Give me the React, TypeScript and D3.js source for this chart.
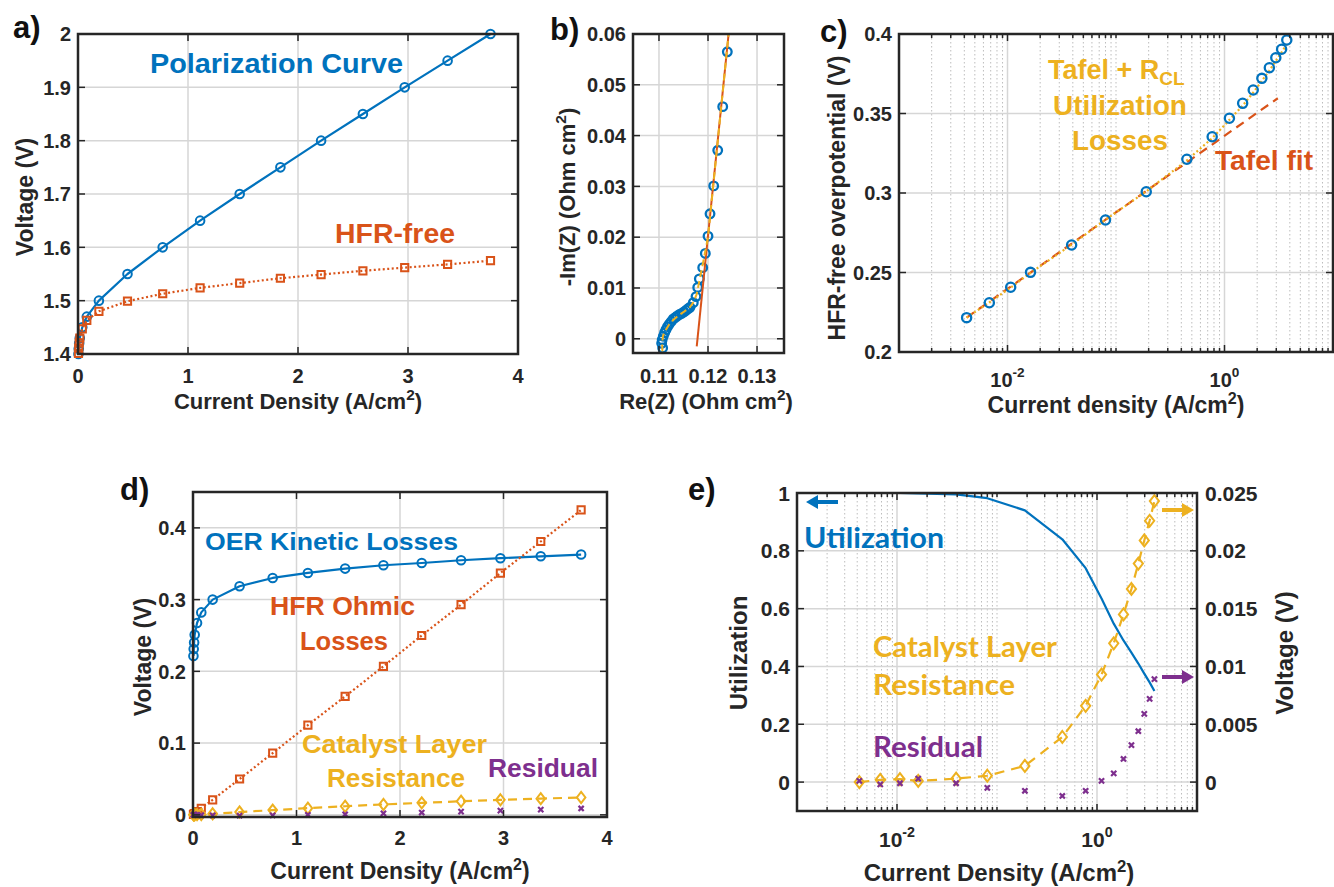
import React, { useRef, useEffect } from 'react'
import * as d3 from 'd3'

const BLUE = '#0072BD'
const RED = '#D95319'
const YELLOW = '#EDB120'
const PURPLE = '#7E2F8E'
const INK = '#262626'
const GRID = '#d6d6d6'
const ARIAL = "'Liberation Sans', Arial, sans-serif"
const CALIBRI = "Lato, 'Open Sans', sans-serif"

// current densities of the polarization points (A/cm2), shared by a, c, d, e
const currentDensity = [0.0042, 0.0068, 0.0107, 0.0163, 0.039, 0.08, 0.19, 0.45, 0.77, 1.11, 1.47, 1.84, 2.21, 2.59, 2.97, 3.36, 3.75]

// a) cell voltage and HFR-free voltage (V)
const cellVoltage = [1.4, 1.41, 1.42, 1.43, 1.45, 1.47, 1.5, 1.55, 1.6, 1.65, 1.7, 1.75, 1.8, 1.85, 1.9, 1.95, 2.0]
const hfrFreeVoltage = [1.401, 1.411, 1.421, 1.43, 1.447, 1.463, 1.48, 1.499, 1.513, 1.524, 1.533, 1.542, 1.549, 1.556, 1.562, 1.568, 1.575]

// b) impedance spectrum (Ohm cm2)
const reZ = [0.11075, 0.11054, 0.11065, 0.11088, 0.11115, 0.11143, 0.11175, 0.1121, 0.1125, 0.11292, 0.11335, 0.11374, 0.1142, 0.11463, 0.1151, 0.11551, 0.1159, 0.11633, 0.117, 0.11755, 0.1179, 0.11823, 0.11892, 0.11945, 0.12, 0.12041, 0.12116, 0.12198, 0.123, 0.12394]
const negImZ = [-0.0018, -0.0009, -0.0002, 0.0005, 0.0012, 0.0018, 0.0024, 0.0029, 0.0034, 0.0039, 0.0042, 0.0045, 0.0048, 0.005, 0.0053, 0.0056, 0.0059, 0.0062, 0.0071, 0.0083, 0.0101, 0.0118, 0.014, 0.0168, 0.0202, 0.0246, 0.0301, 0.0371, 0.0457, 0.0565]
const fitReZ = [0.1107, 0.11065, 0.1108, 0.1113, 0.112, 0.1129, 0.114, 0.1152, 0.1163, 0.1171, 0.1177, 0.1182, 0.119, 0.12, 0.1221, 0.1242]
const fitImZ = [-0.0025, -0.001, 0.0005, 0.0016, 0.0027, 0.0037, 0.0046, 0.0054, 0.0062, 0.0073, 0.0088, 0.0112, 0.015, 0.02, 0.04, 0.06]
const lineReZ = [0.1177, 0.1242]
const lineImZ = [-0.0015, 0.06]

// c) HFR-free overpotential (V)
const overpotential = [0.2216, 0.231, 0.2407, 0.2501, 0.2673, 0.283, 0.3008, 0.3212, 0.3354, 0.347, 0.3564, 0.3648, 0.3721, 0.3788, 0.3851, 0.3904, 0.3962]
const modelOverpotential = [0.2216, 0.2312, 0.2405, 0.2498, 0.2675, 0.2832, 0.301, 0.3205, 0.3345, 0.346, 0.355, 0.3632, 0.3705, 0.377, 0.383, 0.3885, 0.3935]
const tafelCurrent = [0.0042, 3.1]
const tafelOverpotential = [0.2216, 0.3596]

// d) voltage loss breakdown (V)
const kineticLoss = [0.2214, 0.231, 0.2403, 0.2511, 0.2674, 0.2822, 0.3, 0.3186, 0.3302, 0.3372, 0.3432, 0.3479, 0.351, 0.3549, 0.3577, 0.3604, 0.3628]
const ohmicLoss = [0.0005, 0.0008, 0.0012, 0.0018, 0.0044, 0.0092, 0.021, 0.05, 0.086, 0.125, 0.165, 0.207, 0.25, 0.293, 0.337, 0.381, 0.425]
const catalystLayerLoss = [0, 0.0002, 0.00026, 0.0001, 0.0003, 0.00055, 0.0014, 0.0039, 0.0066, 0.0093, 0.012, 0.0145, 0.0167, 0.0189, 0.0209, 0.0226, 0.0243]
const residualLoss = [0.0001, -0.0002, -0.0001, 0.0003, -0.0001, -0.0005, -0.00075, -0.0012, -0.00075, 0.0001, 0.00075, 0.002, 0.0032, 0.0044, 0.0059, 0.0072, 0.0089]

// e) catalyst utilization (-)
const utilization = [1.0, 1.0, 1.0, 0.999, 0.995, 0.982, 0.94, 0.84, 0.74, 0.635, 0.548, 0.49, 0.448, 0.41, 0.375, 0.345, 0.315]

// tick values
const ticksLinearJ = [0, 1, 2, 3, 4]
const ticksLogJ = [0.01, 1]
const ticksA = [1.4, 1.5, 1.6, 1.7, 1.8, 1.9, 2]
const ticksReZ = [0.11, 0.12, 0.13]
const ticksImZ = [0, 0.01, 0.02, 0.03, 0.04, 0.05, 0.06]
const ticksC = [0.2, 0.25, 0.3, 0.35, 0.4]
const ticksD = [0, 0.1, 0.2, 0.3, 0.4]
const ticksUtil = [0, 0.2, 0.4, 0.6, 0.8, 1]
const ticksVoltE = [0, 0.005, 0.01, 0.015, 0.02, 0.025]

type Box = { x0: number; x1: number; y0: number; y1: number }

const fmt = d3.format('~g')

const pairs = (xs: number[], ys: number[]) => xs.map((v, i) => [v, ys[i]])

function minorLogValues(x: any, majors: number[]) {
    const [lo, hi] = x.domain()
    const out: number[] = []
    for (let k = Math.floor(Math.log10(lo)); k < Math.log10(hi); k++) {
        for (let m = 1; m < 10; m++) {
            const v = m * Math.pow(10, k)
            if (v > lo * 1.001 && v < hi * 0.999 && !majors.some(t => Math.abs(v / t - 1) < 1e-6)) out.push(v)
        }
    }
    return out
}

function drawGrid(g: any, b: Box, x: any, y: any, xTicks: number[], yTicks: number[], logX = false) {
    if (logX) {
        g.append('g')
            .selectAll('line')
            .data(minorLogValues(x, xTicks))
            .join('line')
            .attr('x1', (d: number) => x(d))
            .attr('x2', (d: number) => x(d))
            .attr('y1', b.y0)
            .attr('y2', b.y1)
            .attr('stroke', '#bdbdbd')
            .attr('stroke-width', 1)
            .attr('stroke-dasharray', '1.5,2.5')
    }
    g.append('g')
        .selectAll('line')
        .data(xTicks.filter(t => x(t) > b.x0 + 2 && x(t) < b.x1 - 2))
        .join('line')
        .attr('x1', (d: number) => x(d))
        .attr('x2', (d: number) => x(d))
        .attr('y1', b.y0)
        .attr('y2', b.y1)
        .attr('stroke', GRID)
        .attr('stroke-width', 1.5)
    g.append('g')
        .selectAll('line')
        .data(yTicks.filter(t => y(t) > b.y0 + 2 && y(t) < b.y1 - 2))
        .join('line')
        .attr('x1', b.x0)
        .attr('x2', b.x1)
        .attr('y1', (d: number) => y(d))
        .attr('y2', (d: number) => y(d))
        .attr('stroke', GRID)
        .attr('stroke-width', 1.5)
}

type AxisOpts = {
    xTicks: number[]
    yTicks: number[]
    logX?: boolean
    y2?: any
    y2Ticks?: number[]
    xBase: number
    size?: number
}

function drawAxes(g: any, b: Box, x: any, y: any, o: AxisOpts) {
    const size = o.size ?? 20
    const tl = 7
    const ticks = g.append('g').attr('stroke', INK).attr('stroke-width', 1.5)
    o.xTicks.forEach(t => {
        ticks.append('line').attr('x1', x(t)).attr('x2', x(t)).attr('y1', b.y1).attr('y2', b.y1 - tl)
        ticks.append('line').attr('x1', x(t)).attr('x2', x(t)).attr('y1', b.y0).attr('y2', b.y0 + tl)
    })
    if (o.logX) {
        minorLogValues(x, o.xTicks).forEach(t => {
            ticks.append('line').attr('x1', x(t)).attr('x2', x(t)).attr('y1', b.y1).attr('y2', b.y1 - 4)
            ticks.append('line').attr('x1', x(t)).attr('x2', x(t)).attr('y1', b.y0).attr('y2', b.y0 + 4)
        })
    }
    o.yTicks.forEach(t => {
        ticks.append('line').attr('x1', b.x0).attr('x2', b.x0 + tl).attr('y1', y(t)).attr('y2', y(t))
        if (!o.y2) ticks.append('line').attr('x1', b.x1).attr('x2', b.x1 - tl).attr('y1', y(t)).attr('y2', y(t))
    })
    if (o.y2) {
        o.y2Ticks!.forEach(t => {
            ticks.append('line').attr('x1', b.x1).attr('x2', b.x1 - tl).attr('y1', o.y2(t)).attr('y2', o.y2(t))
        })
    }

    // Axes box
    g.append('rect')
        .attr('x', b.x0)
        .attr('y', b.y0)
        .attr('width', b.x1 - b.x0)
        .attr('height', b.y1 - b.y0)
        .attr('fill', 'none')
        .attr('stroke', INK)
        .attr('stroke-width', 2.5)

    const labels = g.append('g')
        .attr('font-family', ARIAL)
        .attr('font-weight', 'bold')
        .attr('font-size', size)
        .attr('fill', INK)

    o.xTicks.forEach(t => {
        const txt = labels.append('text').attr('x', x(t)).attr('y', o.xBase).attr('text-anchor', 'middle')
        if (o.logX) {
            txt.append('tspan').text('10')
            txt.append('tspan').attr('dy', -10).attr('font-size', size * 0.68).text(String(Math.round(Math.log10(t))))
        } else {
            txt.text(fmt(t))
        }
    })
    o.yTicks.forEach(t => {
        labels.append('text')
            .attr('x', b.x0 - 7)
            .attr('y', y(t))
            .attr('dy', '0.36em')
            .attr('text-anchor', 'end')
            .text(fmt(t))
    })
    if (o.y2) {
        o.y2Ticks!.forEach(t => {
            labels.append('text')
                .attr('x', b.x1 + 8)
                .attr('y', o.y2(t))
                .attr('dy', '0.36em')
                .attr('text-anchor', 'start')
                .text(fmt(t))
        })
    }
}

function drawLine(g: any, xs: number[], ys: number[], x: any, y: any, color: string, width: number, dash?: string) {
    const line = d3.line<number[]>().x(d => x(d[0])).y(d => y(d[1]))
    g.append('path')
        .attr('d', line(pairs(xs, ys)))
        .attr('fill', 'none')
        .attr('stroke', color)
        .attr('stroke-width', width)
        .attr('stroke-dasharray', dash ?? null)
        .attr('stroke-linejoin', 'round')
}

const shapes: Record<string, (s: number) => string> = {
    circle: s => `M${s},0A${s},${s} 0 1,1 ${-s},0A${s},${s} 0 1,1 ${s},0Z`,
    square: s => `M${-s},${-s}H${s}V${s}H${-s}Z`,
    diamond: s => `M0,${-s * 1.3}L${s},0L0,${s * 1.3}L${-s},0Z`,
    cross: s => `M${-s},${-s}L${s},${s}M${-s},${s}L${s},${-s}`
}

function drawMarkers(g: any, xs: number[], ys: number[], x: any, y: any, shape: string, size: number, color: string, width: number) {
    g.append('g')
        .selectAll('path')
        .data(pairs(xs, ys))
        .join('path')
        .attr('transform', (d: number[]) => `translate(${x(d[0])},${y(d[1])})`)
        .attr('d', shapes[shape](size))
        .attr('fill', 'none')
        .attr('stroke', color)
        .attr('stroke-width', width)
}

function note(g: any, x: number, y: number, txt: string, color: string, size: number, len?: number, family = ARIAL, anchor = 'start') {
    const t = g.append('text')
        .attr('x', x)
        .attr('y', y)
        .attr('fill', color)
        .attr('font-family', family)
        .attr('font-weight', 'bold')
        .attr('font-size', size)
        .attr('text-anchor', anchor)
        .text(txt)
    if (len) t.attr('textLength', len).attr('lengthAdjust', 'spacingAndGlyphs')
    return t
}

function axisTitle(g: any, x: number, y: number, txt: string, rotate: boolean, sup?: string, size = 23) {
    const t = g.append('text')
        .attr('font-family', ARIAL)
        .attr('font-weight', 'bold')
        .attr('font-size', size)
        .attr('fill', INK)
        .attr('text-anchor', 'middle')
    if (rotate) t.attr('transform', `translate(${x},${y}) rotate(-90)`).attr('dy', '0.35em')
    else t.attr('x', x).attr('y', y)
    if (sup) {
        const [pre, post] = txt.split('^')
        t.append('tspan').text(pre)
        t.append('tspan').attr('dy', -9).attr('font-size', size * 0.7).text(sup)
        t.append('tspan').attr('dy', 9).text(post)
    } else {
        t.text(txt)
    }
}

function arrow(g: any, xFrom: number, xTo: number, yPos: number, color: string) {
    const dir = Math.sign(xTo - xFrom)
    const head = 12
    g.append('line')
        .attr('x1', xFrom)
        .attr('x2', xTo - dir * head)
        .attr('y1', yPos)
        .attr('y2', yPos)
        .attr('stroke', color)
        .attr('stroke-width', 4)
    g.append('path')
        .attr('d', `M${xTo},${yPos}L${xTo - dir * head},${yPos - 7}L${xTo - dir * head},${yPos + 7}Z`)
        .attr('fill', color)
}

function drawChart(el: SVGSVGElement) {
    const svg = d3.select(el)
    svg.selectAll('*').remove()

    // ---------- a) polarization curve ----------
    const bA = { x0: 78, x1: 518, y0: 34, y1: 354 }
    const xA = d3.scaleLinear().domain([0, 4]).range([bA.x0, bA.x1])
    const yA = d3.scaleLinear().domain([1.4, 2]).range([bA.y1, bA.y0])
    const gA = svg.append('g')
    drawGrid(gA, bA, xA, yA, ticksLinearJ, ticksA)
    drawLine(gA, currentDensity, cellVoltage, xA, yA, BLUE, 2.2)
    drawMarkers(gA, currentDensity, cellVoltage, xA, yA, 'circle', 4.3, BLUE, 2)
    drawLine(gA, currentDensity, hfrFreeVoltage, xA, yA, RED, 2.2, '2,2.5')
    drawMarkers(gA, currentDensity, hfrFreeVoltage, xA, yA, 'square', 3.6, RED, 2)
    drawAxes(gA, bA, xA, yA, { xTicks: ticksLinearJ, yTicks: ticksA, xBase: 383 })
    note(gA, 150, 73, 'Polarization  Curve', BLUE, 28, 253)
    note(gA, 335, 243, 'HFR-free', RED, 28, 120)
    axisTitle(gA, 25, 197, 'Voltage (V)', true)
    axisTitle(gA, 298, 409, 'Current Density (A/cm^)', false, '2', 22)
    note(gA, 13, 38, 'a)', '#111', 31)

    // ---------- b) impedance ----------
    const bB = { x0: 633, x1: 784, y0: 34, y1: 353 }
    const xB = d3.scaleLinear().domain([0.1047, 0.1355]).range([bB.x0, bB.x1])
    const yB = d3.scaleLinear().domain([-0.0028, 0.06]).range([bB.y1, bB.y0])
    const gB = svg.append('g')
    drawGrid(gB, bB, xB, yB, ticksReZ, ticksImZ)
    drawMarkers(gB, reZ, negImZ, xB, yB, 'circle', 4.3, BLUE, 2.3)
    drawLine(gB, lineReZ, lineImZ, xB, yB, RED, 2)
    drawLine(gB, fitReZ, fitImZ, xB, yB, YELLOW, 2, '7,4')
    drawAxes(gB, bB, xB, yB, { xTicks: ticksReZ, yTicks: ticksImZ, xBase: 383 })
    axisTitle(gB, 567, 197, '-Im(Z) (Ohm cm^)', true, '2', 22)
    axisTitle(gB, 706, 409, 'Re(Z) (Ohm cm^)', false, '2', 22)
    note(gB, 550, 40, 'b)', '#111', 31)

    // ---------- c) Tafel plot ----------
    const bC = { x0: 899, x1: 1333, y0: 34, y1: 352 }
    const xC = d3.scaleLog().domain([0.001, 10]).range([bC.x0, bC.x1])
    const yC = d3.scaleLinear().domain([0.2, 0.4]).range([bC.y1, bC.y0])
    const gC = svg.append('g')
    drawGrid(gC, bC, xC, yC, ticksLogJ, ticksC, true)
    drawLine(gC, tafelCurrent, tafelOverpotential, xC, yC, RED, 2.2, '9,6')
    drawLine(gC, currentDensity, modelOverpotential, xC, yC, YELLOW, 2.2, '2,2.5')
    drawMarkers(gC, currentDensity, overpotential, xC, yC, 'circle', 4.6, BLUE, 2.3)
    drawAxes(gC, bC, xC, yC, { xTicks: ticksLogJ, yTicks: ticksC, logX: true, xBase: 387 })
    const tafelNote = note(gC, 1048, 79, 'Tafel + R', YELLOW, 27)
    tafelNote.append('tspan').attr('dy', 6).attr('font-size', 19).text('CL')
    note(gC, 1120, 115, 'Utilization', YELLOW, 27, 134, ARIAL, 'middle')
    note(gC, 1120, 150, 'Losses', YELLOW, 27, 96, ARIAL, 'middle')
    note(gC, 1215, 170, 'Tafel fit', RED, 27, 98)
    axisTitle(gC, 837, 198, 'HFR-free overpotential (V)', true)
    axisTitle(gC, 1116, 413, 'Current density (A/cm^)', false, '2')
    note(gC, 820, 42, 'c)', '#111', 31)

    // ---------- d) loss breakdown ----------
    const bD = { x0: 193, x1: 607, y0: 492, y1: 817 }
    const xD = d3.scaleLinear().domain([0, 4]).range([bD.x0, bD.x1])
    const yD = d3.scaleLinear().domain([-0.003, 0.45]).range([bD.y1, bD.y0])
    const gD = svg.append('g')
    drawGrid(gD, bD, xD, yD, ticksLinearJ, ticksD)
    drawLine(gD, currentDensity, kineticLoss, xD, yD, BLUE, 2.2)
    drawMarkers(gD, currentDensity, kineticLoss, xD, yD, 'circle', 4.3, BLUE, 2)
    drawLine(gD, currentDensity, ohmicLoss, xD, yD, RED, 2.2, '2,2.5')
    drawMarkers(gD, currentDensity, ohmicLoss, xD, yD, 'square', 3.6, RED, 2)
    drawLine(gD, currentDensity, catalystLayerLoss, xD, yD, YELLOW, 2.2, '9,6')
    drawMarkers(gD, currentDensity, catalystLayerLoss, xD, yD, 'diamond', 4.3, YELLOW, 2)
    drawMarkers(gD, currentDensity, residualLoss, xD, yD, 'cross', 2.6, PURPLE, 2.2)
    drawAxes(gD, bD, xD, yD, { xTicks: ticksLinearJ, yTicks: ticksD, xBase: 845 })
    note(gD, 205, 550, 'OER Kinetic Losses', BLUE, 24, 253)
    note(gD, 270, 615, 'HFR Ohmic', RED, 25, 145)
    note(gD, 300, 650, 'Losses', RED, 25, 88)
    note(gD, 302, 753, 'Catalyst Layer', YELLOW, 25, 185)
    note(gD, 327, 787, 'Resistance', YELLOW, 25, 138)
    note(gD, 488, 777, 'Residual', PURPLE, 25, 110)
    axisTitle(gD, 143, 657, 'Voltage (V)', true)
    axisTitle(gD, 400, 879, 'Current Density (A/cm^)', false, '2')
    note(gD, 120, 500, 'd)', '#111', 31)

    // ---------- e) utilization ----------
    const bE = { x0: 797, x1: 1197, y0: 493, y1: 811 }
    const xE = d3.scaleLog().domain([0.001, 10]).range([bE.x0, bE.x1])
    const yE = d3.scaleLinear().domain([-0.1, 1]).range([bE.y1, bE.y0])
    const y2E = d3.scaleLinear().domain([-0.0025, 0.025]).range([bE.y1, bE.y0])
    const gE = svg.append('g')
    drawGrid(gE, bE, xE, yE, ticksLogJ, ticksUtil, true)
    drawLine(gE, currentDensity, utilization, xE, yE, BLUE, 2.2)
    drawLine(gE, currentDensity, catalystLayerLoss, xE, y2E, YELLOW, 2.2, '10,7')
    drawMarkers(gE, currentDensity, catalystLayerLoss, xE, y2E, 'diamond', 4.6, YELLOW, 2)
    drawMarkers(gE, currentDensity, residualLoss, xE, y2E, 'cross', 2.6, PURPLE, 2.2)
    drawAxes(gE, bE, xE, yE, {
        xTicks: ticksLogJ,
        yTicks: ticksUtil,
        logX: true,
        y2: y2E,
        y2Ticks: ticksVoltE,
        xBase: 847,
        size: 21
    })
    note(gE, 804, 548, 'Utilization', BLUE, 28, 140, CALIBRI)
    note(gE, 873, 657, 'Catalyst Layer', YELLOW, 28, 184, CALIBRI)
    note(gE, 873, 695, 'Resistance', YELLOW, 28, 142, CALIBRI)
    note(gE, 873, 757, 'Residual', PURPLE, 28, 110, CALIBRI)
    arrow(gE, 838, 806, 502, BLUE)
    arrow(gE, 1162, 1194, 510, YELLOW)
    arrow(gE, 1162, 1194, 677, PURPLE)
    axisTitle(gE, 739, 653, 'Utilization', true, undefined, 24)
    axisTitle(gE, 1285, 653, 'Voltage (V)', true, undefined, 24)
    axisTitle(gE, 999, 881, 'Current Density (A/cm^)', false, '2', 24)
    note(gE, 688, 500, 'e)', '#111', 31)
}

export default function App() {
    const chartRef = useRef<SVGSVGElement>(null)

    useEffect(() => {
        if (chartRef.current) drawChart(chartRef.current)
    }, [])

    return (
        <div style={{ position: 'absolute', left: 0, top: 0 }}>
            <svg ref={chartRef} width={1334} height={887} style={{ display: 'block', background: '#ffffff' }} />
        </div>
    )
}
